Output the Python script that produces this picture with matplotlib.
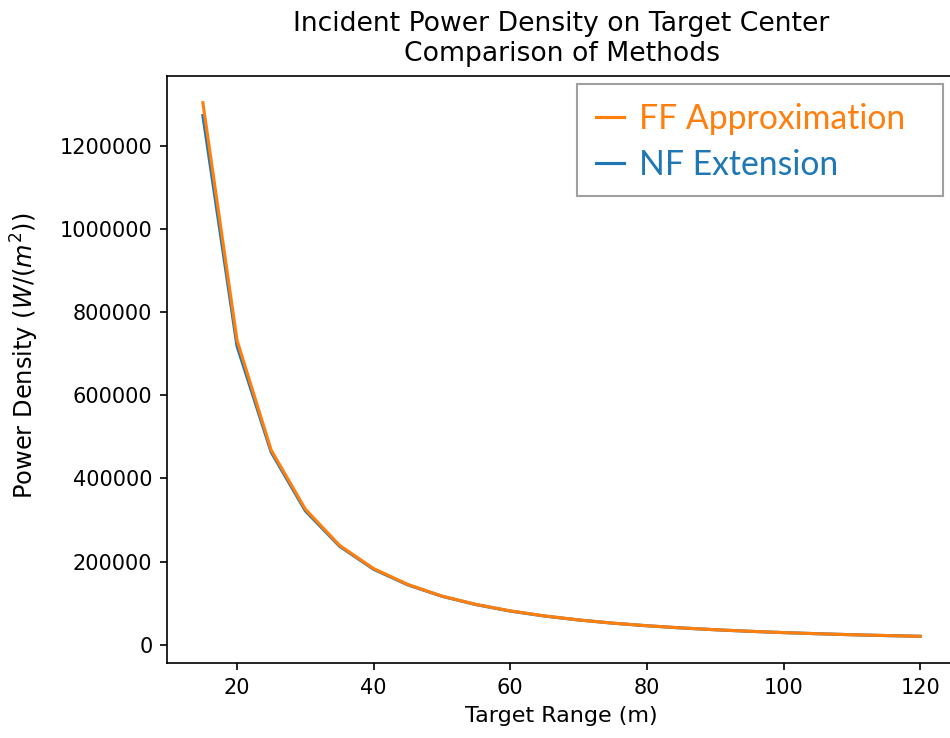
import matplotlib
matplotlib.use("Agg")
import matplotlib.pyplot as plt
from matplotlib.lines import Line2D
from matplotlib.patches import Rectangle

target_range = [15, 20, 25, 30, 35, 40, 45, 50, 55, 60, 65, 70, 75, 80,
                85, 90, 95, 100, 105, 110, 115, 120]
ff_approx = [1303000, 732000, 468000, 326000, 239000, 183000, 145000, 117000,
             97000, 81500, 69400, 59800, 52100, 45800, 40600, 36200, 32500,
             29300, 26600, 24200, 22200, 20400]
nf_extension = [1272000, 718000, 463000, 322000, 237000, 181500, 144000, 116500,
                96500, 81000, 69100, 59600, 51900, 45700, 40500, 36100, 32400,
                29250, 26550, 24150, 22150, 20350]

title = "Incident Power Density on Target Center\nComparison of Methods"
xlabel = "Target Range (m)"
ylabel = "Power Density ($W/(m^2)$)"
labels = ["FF Approximation", "NF Extension"]

W, H = 950, 738
fig = plt.figure(figsize=(W / 150, H / 150), dpi=150)
ax = fig.add_axes([167 / W, 1 - 663 / H, (956 - 167) / W, (663 - 76) / H])

blue = "#1f77b4"
orange = "#ff7f0e"
ax.plot(target_range, nf_extension, color=blue)
ax.plot(target_range, ff_approx, color=orange)

ax.ticklabel_format(axis="y", style="plain", useOffset=False)
ax.set_xticks([20, 40, 60, 80, 100, 120])
ax.set_yticks([0, 200000, 400000, 600000, 800000, 1000000, 1200000])
ax.tick_params(labelsize=10)
ax.set_xlabel(xlabel, fontsize=10.7)
ax.set_ylabel(ylabel, fontsize=11.6)
ax.yaxis.set_label_coords(-0.160, (663 - 356) / 587)
ax.set_title(title, fontsize=12.8, pad=7)

# legend frame (drawn separately to match the reference box size)
box = Rectangle((577 / W, 1 - 196 / H), (943 - 577) / W, (196 - 84) / H,
                transform=fig.transFigure, facecolor="white",
                edgecolor="#a0a0a0", linewidth=1.0, zorder=4)
fig.add_artist(box)

handles = [Line2D([], [], color=orange), Line2D([], [], color=blue)]
leg = fig.legend(handles, labels, loc="upper left",
                 bbox_to_anchor=(577 / W, 1 - 84 / H),
                 prop={"family": "Lato", "size": 16.2},
                 handlelength=0.85, handletextpad=0.45,
                 frameon=False,
                 borderpad=0.55, labelspacing=0.42, borderaxespad=0)
leg.set_zorder(5)
for t, c in zip(leg.get_texts(), [orange, blue]):
    t.set_color(c)

fig.savefig("out.png", dpi=150)
